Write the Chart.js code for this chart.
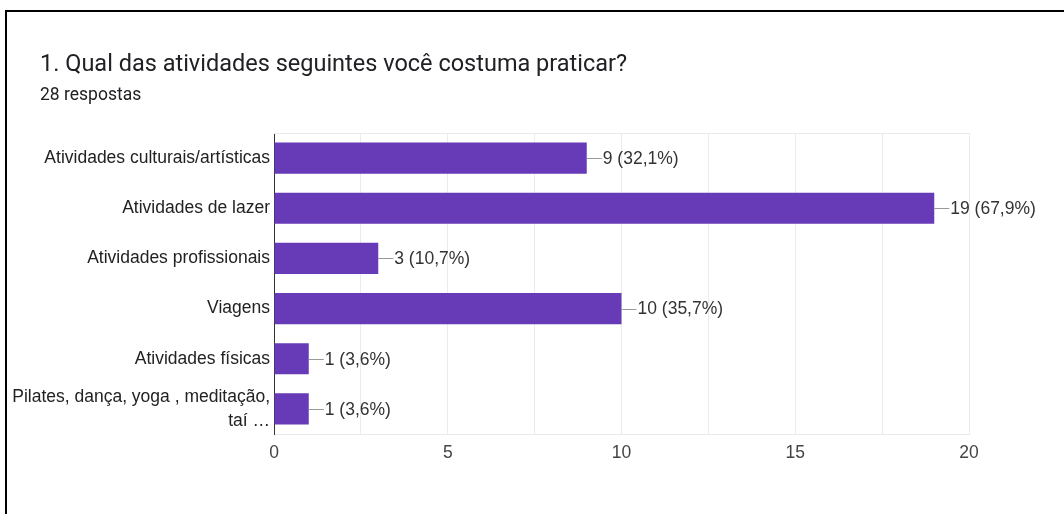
<!DOCTYPE html>
<html>
<head>
<meta charset="utf-8">
<script src="https://cdn.jsdelivr.net/npm/chart.js@4/dist/chart.umd.min.js"></script>
<style>
  html, body { margin: 0; padding: 0; background: #fff; }
  #wrap { position: relative; width: 1064px; height: 514px; overflow: hidden; }
  #frame { position: absolute; left: 5px; top: 10px; width: 1200px; height: 700px;
           border-top: 2px solid #000; border-left: 2px solid #000; box-sizing: border-box; pointer-events: none; }
  #title { position: absolute; left: 40px; top: 49px; font: 23.5px Roboto, sans-serif; color: #202124; white-space: nowrap; }
  #sub { position: absolute; left: 40px; top: 84px; font: 17.5px Roboto, sans-serif; color: #202124; white-space: nowrap; }
  canvas { position: absolute; left: 0; top: 0; }
</style>
</head>
<body>
<div id="wrap">
  <canvas id="c" width="1064" height="514"></canvas>
  <div id="title">1. Qual das atividades seguintes você costuma praticar?</div>
  <div id="sub">28 respostas</div>
  <div id="frame"></div>
</div>
<script>
const categories = [
  'Atividades culturais/artísticas',
  'Atividades de lazer',
  'Atividades profissionais',
  'Viagens',
  'Atividades físicas',
  ['Pilates, dança, yoga , meditação,', 'taí …']
];
const counts = [9, 19, 3, 10, 1, 1];
const totalResponses = 28;
const xTicks = [0, 5, 10, 15, 20];

const barColor = '#673ab7';
const fontFamily = '"Liberation Sans", Arial, sans-serif';
const fontSize = 17.5;

// Value annotation: short leader line from the bar end, then "n (p%)"
const valueLabels = {
  id: 'valueLabels',
  afterDatasetsDraw(chart) {
    const { ctx } = chart;
    const meta = chart.getDatasetMeta(0);
    ctx.save();
    ctx.font = fontSize + 'px ' + fontFamily;
    ctx.textBaseline = 'middle';
    meta.data.forEach((bar, i) => {
      const v = counts[i];
      const pct = (v / totalResponses * 100).toFixed(1).replace('.', ',');
      const x0 = bar.x, y = bar.y;
      ctx.strokeStyle = '#999';
      ctx.lineWidth = 1;
      ctx.beginPath();
      ctx.moveTo(x0, Math.round(y) + 0.5);
      ctx.lineTo(x0 + 15, Math.round(y) + 0.5);
      ctx.stroke();
      ctx.fillStyle = '#333';
      ctx.textAlign = 'left';
      ctx.fillText(v + ' (' + pct + '%)', x0 + 16, y + 1);
    });
    ctx.restore();
  }
};

// Light rule along the top of the plot area
const topRule = {
  id: 'topRule',
  beforeDatasetsDraw(chart) {
    const { ctx, chartArea: a } = chart;
    ctx.save();
    ctx.strokeStyle = '#ebebeb';
    ctx.lineWidth = 1;
    ctx.beginPath();
    ctx.moveTo(a.left, a.top + 0.5);
    ctx.lineTo(a.right, a.top + 0.5);
    ctx.stroke();
    ctx.restore();
  }
};

new Chart(document.getElementById('c'), {
  type: 'bar',
  data: {
    labels: categories,
    datasets: [{
      data: counts,
      backgroundColor: barColor,
      borderWidth: 0,
      barPercentage: 0.62,
      categoryPercentage: 1
    }]
  },
  options: {
    indexAxis: 'y',
    responsive: false,
    animation: false,
    events: [],
    layout: { padding: { left: 0, right: 95, top: 133, bottom: 0 } },
    plugins: { legend: { display: false }, tooltip: { enabled: false } },
    scales: {
      x: {
        min: 0, max: 20,
        afterBuildTicks(s) { s.ticks = []; for (let v = 0; v <= 20; v += 2.5) s.ticks.push({ value: v }); },
        afterFit(s) { s.height = 80; },
        grid: { color: '#ebebeb', drawTicks: false, lineWidth: 1 },
        border: { color: '#ebebeb', width: 1 },
        ticks: {
          padding: 9,
          color: '#444',
          font: { family: fontFamily, size: fontSize },
          maxRotation: 0,
          autoSkip: false,
          callback: (v) => xTicks.includes(v) ? String(v) : ''
        }
      },
      y: {
        afterFit(s) { s.width = 274; },
        grid: { display: false, drawTicks: false },
        border: { color: '#333', width: 1 },
        ticks: {
          padding: 4,
          color: '#222',
          autoSkip: false,
          font: { family: fontFamily, size: fontSize, lineHeight: 1.35 }
        }
      }
    }
  },
  plugins: [valueLabels, topRule]
});
</script>
</body>
</html>
